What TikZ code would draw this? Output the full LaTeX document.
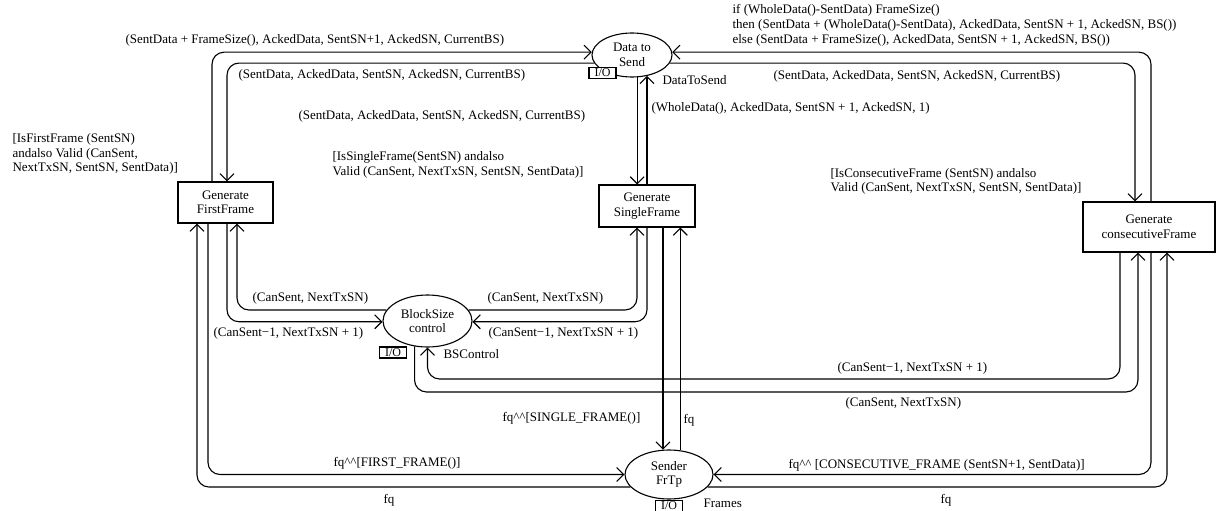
\documentclass[tikz,border=0pt]{standalone}
\usepackage{fontspec}
\setmainfont{Liberation Serif}
\usetikzlibrary{shapes.geometric,arrows.meta}
\begin{document}
\begin{tikzpicture}[x=1pt,y=-1pt,
  font=\fontsize{13}{14.5}\selectfont,
  line width=1.1pt,
  arr/.style={-{Straight Barb[length=7pt,width=14pt]}},
  conn/.style={rounded corners=12pt},
  place/.style={ellipse,draw,inner sep=0pt,align=center},
  trans/.style={rectangle,draw,inner sep=0pt,align=center},
  iobox/.style={rectangle,draw,inner sep=0pt,minimum width=27pt,minimum height=11pt,
                font=\fontsize{12}{12}\selectfont},
  lbl/.style={anchor=west,inner sep=0pt,align=left},
]
\useasboundingbox (0,0) rectangle (1216,511);
\clip (0,0) rectangle (1216,511);

% places
\node[place,minimum width=80pt,minimum height=44pt] (dts) at (632,55) {Data to\\Send};
\node[place,minimum width=89pt,minimum height=52pt] (bsc) at (427.5,321) {BlockSize\\control};
\node[place,minimum width=88pt,minimum height=49pt] (sfr) at (669,474.5) {Sender\\FrTp};

% port tags and place names
\node[iobox,fill=white] (dtsio) at (602.5,73) {I/O};
\node[iobox,fill=white] (bscio) at (393,352.5) {I/O};
\node[iobox,fill=white] (sfrio) at (669,506) {I/O};
\node[lbl] (dtsname) at (662,80) {DataToSend};
\node[lbl] (bscname) at (443,354) {BSControl};
\node[lbl] (sfrname) at (703,503) {Frames};

% transitions
\node[trans,minimum width=95pt,minimum height=41pt] (gff) at (225.5,202.5) {Generate\\FirstFrame};
\node[trans,minimum width=96pt,minimum height=42pt] (gsf) at (647,206) {Generate\\SingleFrame};
\node[trans,minimum width=132pt,minimum height=50pt] (gcf) at (1149,227) {Generate\\consecutiveFrame};

% guards
\node[lbl] (ggff) at (12,154) {[IsFirstFrame (SentSN)\\andalso Valid (CanSent,\\NextTxSN, SentSN, SentData)]};
\node[lbl] (ggsf) at (332,165) {[IsSingleFrame(SentSN) andalso\\Valid (CanSent, NextTxSN, SentSN, SentData)]};
\node[lbl] (ggcf) at (830,181.5) {[IsConsecutiveFrame (SentSN) andalso\\Valid (CanSent, NextTxSN, SentSN, SentData)]};

% helper levels for the long horizontal runs
\coordinate (m1) at (0,379);
\coordinate (m2) at (0,392);

% Data to Send <-> Generate FirstFrame
\draw[arr,conn] ([xshift=-13.5pt]gff.north) |- (dts.176);
\draw[arr,conn] (dts.192) -| ([xshift=1.5pt]gff.north);
\node[lbl] (a1) at (125,40) {(SentData + FrameSize(), AckedData, SentSN+1, AckedSN, CurrentBS)};
\node[lbl] (a2) at (238,75) {(SentData, AckedData, SentSN, AckedSN, CurrentBS)};

% Data to Send <-> Generate SingleFrame
\draw[arr] (dts.283) -- (dts.283 |- gsf.north);
\draw[arr] (gsf.north) -- (gsf.north |- dts.306);
\node[lbl] (a3) at (298,116) {(SentData, AckedData, SentSN, AckedSN, CurrentBS)};
\node[lbl] (a4) at (651,108) {(WholeData(), AckedData, SentSN + 1, AckedSN, 1)};

% Data to Send <-> Generate consecutiveFrame
\draw[arr,conn] ([xshift=2pt]gcf.north) |- (dts.4);
\draw[arr,conn] (dts.348) -| ([xshift=-14pt]gcf.north);
\node[lbl,font=\fontsize{13}{15}\selectfont] (a5) at (732,25)
  {if (WholeData()-SentData) FrameSize()\\
   then (SentData + (WholeData()-SentData), AckedData, SentSN + 1, AckedSN, BS())\\
   else (SentData + FrameSize(), AckedData, SentSN + 1, AckedSN, BS())};
\node[lbl] (a6) at (773,76) {(SentData, AckedData, SentSN, AckedSN, CurrentBS)};

% BlockSize control <-> Generate FirstFrame
\draw[arr,conn] (bsc.165) -| ([xshift=11.5pt]gff.south);
\draw[arr,conn] ([xshift=1.5pt]gff.south) |- (bsc.181);
\node[lbl] (b1) at (252,298) {(CanSent, NextTxSN)};
\node[lbl] (b2) at (213,333) {(CanSent−1, NextTxSN + 1)};

% BlockSize control <-> Generate SingleFrame
\draw[arr,conn] (bsc.15) -| ([xshift=-10pt]gsf.south);
\draw[arr,conn] (gsf.south) |- (bsc.359);
\node[lbl] (b3) at (487,298) {(CanSent, NextTxSN)};
\node[lbl] (b4) at (488,333) {(CanSent−1, NextTxSN + 1)};

% BlockSize control <-> Generate consecutiveFrame
\draw[arr,conn] ([xshift=-29pt]gcf.south) -- ([xshift=-29pt]gcf.south |- m1) -| (bsc.south);
\draw[arr,conn] (bsc.243) -- (bsc.243 |- m2) -| ([xshift=-11pt]gcf.south);
\node[lbl] (b5) at (837,368) {(CanSent−1, NextTxSN + 1)};
\node[lbl] (b6) at (845,403) {(CanSent, NextTxSN)};

% Sender FrTp <-> Generate FirstFrame
\draw[arr,conn] ([xshift=-17.5pt]gff.south) |- (sfr.west);
\draw[arr,conn] (sfr.198) -| ([xshift=-28.5pt]gff.south);
\node[lbl] (c1) at (333,463) {fq\textasciicircum\textasciicircum[FIRST\_FRAME()]};
\node[lbl] (c2) at (383,500) {fq};

% Sender FrTp <-> Generate SingleFrame
\draw[arr] ([xshift=16pt]gsf.south) -- ([xshift=16pt]gsf.south |- sfr.104);
\draw[arr] (sfr.65) -- (sfr.65 |- gsf.south);
\node[lbl] (c3) at (502,418) {fq\textasciicircum\textasciicircum[SINGLE\_FRAME()]};
\node[lbl] (c4) at (683,420) {fq};

% Sender FrTp <-> Generate consecutiveFrame
\draw[arr,conn] ([xshift=2pt]gcf.south) |- (sfr.east);
\draw[arr,conn] (sfr.342) -| ([xshift=18pt]gcf.south);
\node[lbl] (c5) at (788,465) {fq\textasciicircum\textasciicircum\ [CONSECUTIVE\_FRAME (SentSN+1, SentData)]};
\node[lbl] (c6) at (940,500) {fq};
\end{tikzpicture}
\end{document}
